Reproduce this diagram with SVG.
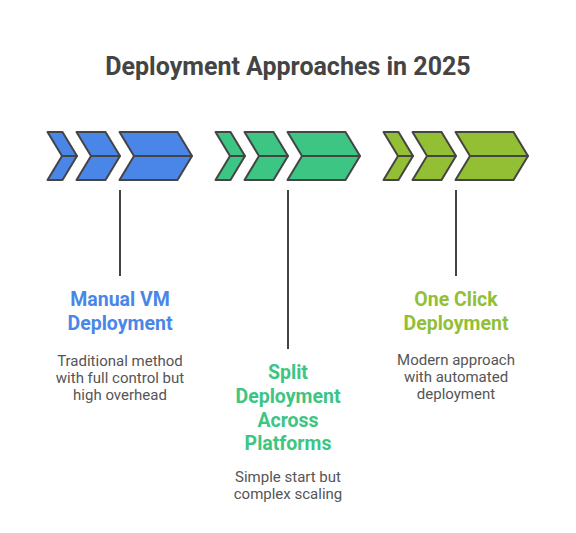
<svg xmlns="http://www.w3.org/2000/svg" width="576" height="533" viewBox="0 0 576 533">
<style>
.ch{stroke:#444;stroke-width:2;stroke-linejoin:round}
.b{fill:#4a86e8}.g{fill:#3cc583}.y{fill:#93bf35}
.ln{stroke:#444;stroke-width:2;fill:none}
.t{font-family:Roboto,"Liberation Sans",sans-serif;font-weight:bold;font-size:19.5px;text-anchor:middle}
.d{font-family:Roboto,"Liberation Sans",sans-serif;font-size:15px;fill:#555;text-anchor:middle}
.title{font-family:Roboto,"Liberation Sans",sans-serif;font-weight:bold;font-size:25px;fill:#444;text-anchor:middle}
</style>
<defs>
<g id="chev">
<path class="ch" d="M47.5,132 H62.5 L77,156 H62 Z"/>
<path class="ch" d="M62,156 H77 L62.5,180 H47.5 Z"/>
<path class="ch" d="M76.5,132 H105.5 L120,156 H91 Z"/>
<path class="ch" d="M91,156 H120 L105.5,180 H76.5 Z"/>
<path class="ch" d="M119.5,132 H177.5 L192,156 H134 Z"/>
<path class="ch" d="M134,156 H192 L177.5,180 H119.5 Z"/>
</g>
</defs>
<text class="title" x="288" y="75">Deployment Approaches in 2025</text>
<g id="connectors">
<line class="ln" x1="120" y1="190" x2="120" y2="276"/>
<line class="ln" x1="288" y1="190" x2="288" y2="349"/>
<line class="ln" x1="456" y1="190" x2="456" y2="276"/>
</g>
<g id="node-manual">
<use href="#chev" class="b"/>
<text class="t" x="120" y="306" fill="#4a86e8">Manual VM</text>
<text class="t" x="120" y="330" fill="#4a86e8">Deployment</text>
<text class="d" x="120" y="366">Traditional method</text>
<text class="d" x="120" y="383">with full control but</text>
<text class="d" x="120" y="400">high overhead</text>
</g>
<g id="node-split">
<use href="#chev" class="g" transform="translate(168,0)"/>
<text class="t" x="288" y="379" fill="#3cc583">Split</text>
<text class="t" x="288" y="403" fill="#3cc583">Deployment</text>
<text class="t" x="288" y="427" fill="#3cc583">Across</text>
<text class="t" x="288" y="450" fill="#3cc583">Platforms</text>
<text class="d" x="288" y="482">Simple start but</text>
<text class="d" x="288" y="499">complex scaling</text>
</g>
<g id="node-oneclick">
<use href="#chev" class="y" transform="translate(336,0)"/>
<text class="t" x="456" y="306" fill="#93bf35">One Click</text>
<text class="t" x="456" y="330" fill="#93bf35">Deployment</text>
<text class="d" x="456" y="365">Modern approach</text>
<text class="d" x="456" y="382">with automated</text>
<text class="d" x="456" y="399">deployment</text>
</g>
</svg>
